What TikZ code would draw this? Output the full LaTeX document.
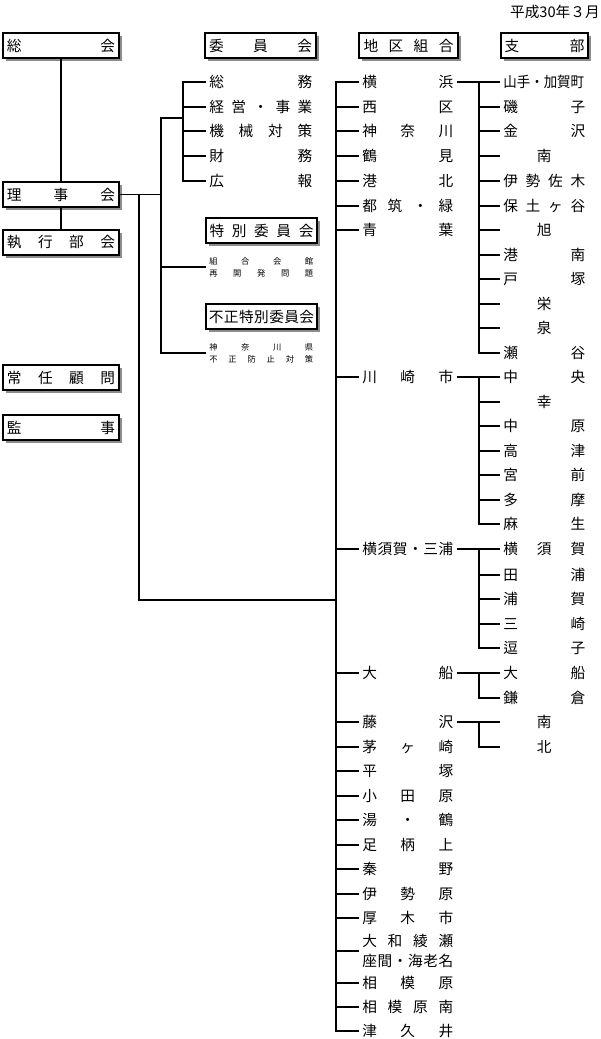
\documentclass[tikz,border=0pt]{standalone}
\usepackage{fontspec}
\usepackage{graphicx}
\setmainfont{Noto Sans CJK JP}
\usetikzlibrary{shadows}
\newcommand\spr[2]{\makebox[#1][s]{#2}}
\begin{document}
\begin{tikzpicture}[x=0.75pt,y=-0.75pt,
  every node/.style={font=\fontsize{11pt}{12pt}\selectfont},
  hbox/.style={draw, line width=1.5pt, fill=white, inner sep=0pt,
    minimum height=18.75pt, anchor=north west,
    drop shadow={shadow xshift=2.4pt, shadow yshift=-2.4pt, fill=black!45, opacity=1}},
  lst/.style={anchor=west, inner xsep=2.25pt, inner ysep=0pt},
  small/.style={lst, align=left, font=\fontsize{6.2pt}{9pt}\selectfont},
  ln/.style={line width=1.4pt}]
\useasboundingbox (0,0) rectangle (600,1039);

% date
\node[anchor=east, inner sep=0pt, font=\fontsize{11pt}{12pt}\selectfont] (date) at (600,12) {平成30年３月};

% header boxes
\node[hbox, minimum width=87pt] (soukai) at (2,32) {\spr{81pt}{総\hfil 会}};
\node[hbox, minimum width=83.25pt] (iinkai) at (204,32) {\spr{77.25pt}{委\hfil 員\hfil 会}};
\node[hbox, minimum width=74.25pt] (chiku) at (358,32) {\spr{67.5pt}{地\hfil 区\hfil 組\hfil 合}};
\node[hbox, minimum width=65.25pt] (shibu) at (500,32) {\spr{60pt}{支\hfil 部}};

% left boxes
\node[hbox, minimum width=87pt] (rijikai) at (2,181) {\spr{81pt}{理\hfil 事\hfil 会}};
\node[hbox, minimum width=87pt] (shikkou) at (2,229) {\spr{81pt}{執\hfil 行\hfil 部\hfil 会}};
\node[hbox, minimum width=87pt] (jonin) at (2,364) {\spr{81pt}{常\hfil 任\hfil 顧\hfil 問}};
\node[hbox, minimum width=87pt] (kanji) at (2,414) {\spr{81pt}{監\hfil 事}};

% special committees
\node[hbox, minimum width=83.25pt] (toku) at (205,217) {\spr{78pt}{特\hfil 別\hfil 委\hfil 員\hfil 会}};
\node[hbox, minimum width=83.25pt] (fusei) at (205,303) {\spr{79pt}{不\hfil 正\hfil 特\hfil 別\hfil 委\hfil 員\hfil 会}};
\node[small] (tokusub) at (206,267) {\spr{78pt}{組\hfil 合\hfil 会\hfil 館}\\\spr{78pt}{再\hfil 開\hfil 発\hfil 問\hfil 題}};
\node[small] (fuseisub) at (206,353) {\spr{78pt}{神\hfil 奈\hfil 川\hfil 県}\\\spr{78pt}{不\hfil 正\hfil 防\hfil 止\hfil 対\hfil 策}};

% committee list
\foreach \n/\y/\t in {i1/82/{総\hfil 務}, i2/107/{経\hfil 営\hfil ・\hfil 事\hfil 業},
  i3/131/{機\hfil 械\hfil 対\hfil 策}, i4/156/{財\hfil 務}, i5/181/{広\hfil 報}}
  \node[lst] (\n) at (206,\y) {\spr{77.25pt}{\t}};

% district list
\foreach \n/\y/\t in {d1/82/{横\hfil 浜}, d2/107/{西\hfil 区}, d3/131/{神\hfil 奈\hfil 川},
  d4/156/{鶴\hfil 見}, d5/181/{港\hfil 北}, d6/206/{都\hfil 筑\hfil ・\hfil 緑},
  d7/230/{青\hfil 葉}, d8/377/{川\hfil 崎\hfil 市},
  d9/549/{横\hfil 須\hfil 賀\hfil ・\hfil 三\hfil 浦}, d10/673/{大\hfil 船},
  d11/722/{藤\hfil 沢}, d12/747/{茅\hfil ヶ\hfil 崎}, d13/771/{平\hfil 塚},
  d14/796/{小\hfil 田\hfil 原}, d15/820/{湯\hfil ・\hfil 鶴}, d16/845/{足\hfil 柄\hfil 上},
  d17/869/{秦\hfil 野}, d18/894/{伊\hfil 勢\hfil 原}, d19/918/{厚\hfil 木\hfil 市},
  d21/983/{相\hfil 模\hfil 原}, d22/1007/{相\hfil 模\hfil 原\hfil 南},
  d23/1031/{津\hfil 久\hfil 井}}
  \node[lst] (\n) at (359,\y) {\spr{68.25pt}{\t}};
\node[lst, align=left, font=\fontsize{11pt}{15pt}\selectfont] (d20) at (359,951)
  {\spr{68.25pt}{大\hfil 和\hfil 綾\hfil 瀬}\\\spr{68.25pt}{座\hfil 間\hfil ・\hfil 海\hfil 老\hfil 名}};

% branch list
\foreach \n/\y/\t in {ya1/82/{\scalebox{0.92}[1]{山手・加賀町}}, ya2/107/{磯\hfil 子},
  ya3/131/{金\hfil 沢}, ya4/156/{\hfil 南\hfil}, ya5/181/{伊\hfil 勢\hfil 佐\hfil 木},
  ya6/206/{保\hfil 土\hfil ヶ\hfil 谷}, ya7/230/{\hfil 旭\hfil}, ya8/255/{港\hfil 南},
  ya9/279/{戸\hfil 塚}, ya10/304/{\hfil 栄\hfil}, ya11/328/{\hfil 泉\hfil}, ya12/353/{瀬\hfil 谷},
  ka1/377/{中\hfil 央}, ka2/402/{\hfil 幸\hfil}, ka3/426/{中\hfil 原}, ka4/451/{高\hfil 津},
  ka5/475/{宮\hfil 前}, ka6/500/{多\hfil 摩}, ka7/524/{麻\hfil 生},
  yo1/549/{横\hfil 須\hfil 賀}, yo2/575/{田\hfil 浦}, yo3/599/{浦\hfil 賀},
  yo4/624/{三\hfil 崎}, yo5/648/{逗\hfil 子},
  of1/673/{大\hfil 船}, of2/698/{鎌\hfil 倉},
  fu1/722/{\hfil 南\hfil}, fu2/747/{\hfil 北\hfil}}
  \node[lst] (\n) at (500,\y) {\spr{61.5pt}{\t}};

% junction coordinates
\coordinate (cA) at (161,118);
\coordinate (cB) at (183,0);
\coordinate (cC) at (336,0);
\coordinate (cD) at (479,0);
\coordinate (cE) at (139,0);
\coordinate (j3) at (336,600);

% left connectors
\draw[ln] (soukai.south) -- (rijikai.north);
\draw[ln] (rijikai.south) -- (shikkou.north);
\draw[ln] (rijikai.east) -- (rijikai.east -| cA);
\draw[ln] (rijikai.east -| cE) |- (j3);
\draw[ln] (cA -| cB) -- (cA) |- (fuseisub.west);
\draw[ln] (tokusub.west -| cA) -- (tokusub.west);

% committee connectors
\draw[ln] (i1.west) -| (i5.west -| cB) -- (i5.west);
\foreach \n in {i2,i3,i4} \draw[ln] (\n.west -| cB) -- (\n.west);

% district connectors
\draw[ln] (d1.west) -| (d23.west -| cC) -- (d23.west);
\foreach \n in {d2,d3,d4,d5,d6,d7,d8,d9,d10,d11,d12,d13,d14,d15,d16,d17,d18,d19,d20,d21,d22}
  \draw[ln] (\n.west -| cC) -- (\n.west);

% branch connectors
\draw[ln] (d1.east) -- (ya1.west);
\draw[ln] (ya1.west -| cD) |- (ya12.west);
\foreach \n in {ya2,ya3,ya4,ya5,ya6,ya7,ya8,ya9,ya10,ya11} \draw[ln] (\n.west -| cD) -- (\n.west);
\draw[ln] (d8.east) -- (ka1.west);
\draw[ln] (ka1.west -| cD) |- (ka7.west);
\foreach \n in {ka2,ka3,ka4,ka5,ka6} \draw[ln] (\n.west -| cD) -- (\n.west);
\draw[ln] (d9.east) -- (yo1.west);
\draw[ln] (yo1.west -| cD) |- (yo5.west);
\foreach \n in {yo2,yo3,yo4} \draw[ln] (\n.west -| cD) -- (\n.west);
\draw[ln] (d10.east) -- (of1.west);
\draw[ln] (of1.west -| cD) |- (of2.west);
\draw[ln] (d11.east) -- (fu1.west);
\draw[ln] (fu1.west -| cD) |- (fu2.west);
\end{tikzpicture}
\end{document}
